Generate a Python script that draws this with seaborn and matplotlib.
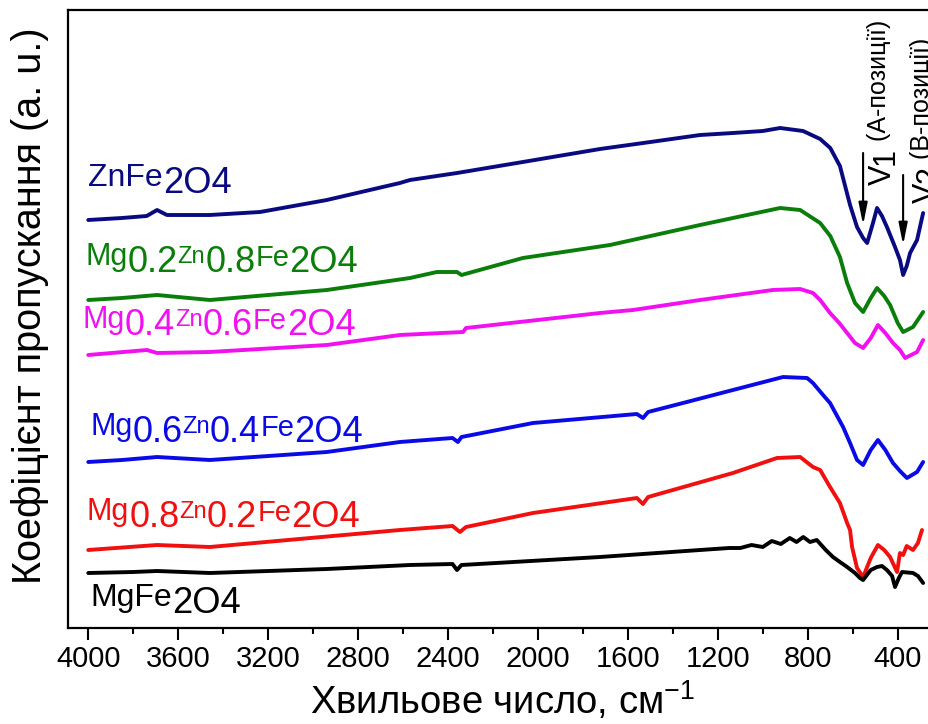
import matplotlib
matplotlib.use("Agg")
import matplotlib.pyplot as plt
import matplotlib.transforms as mtransforms
import numpy as np
import pandas as pd
import seaborn as sns

# --- FTIR spectra of Mg(x)Zn(1-x)Fe2O4, offset transmittance (a.u.) ---
samples = ["ZnFe2O4", "Mg0.2Zn0.8Fe2O4", "Mg0.4Zn0.6Fe2O4",
           "Mg0.6Zn0.4Fe2O4", "Mg0.8Zn0.2Fe2O4", "MgFe2O4"]

wn_zn = [4000, 3850, 3740, 3694, 3650, 3459, 3236, 2939, 2614, 2569, 2360, 2067,
         1724, 1500, 1279, 1133, 1000, 923, 821, 745, 700, 657, 612, 581, 554,
         536, 510, 492, 470, 448, 412, 390, 376, 360, 345, 314, 287]
t_zn = [408, 410, 412, 418, 413, 413, 416, 428, 445, 448, 455, 466,
        479, 486, 493, 495, 497, 500, 497, 489, 480, 462, 423, 401, 390,
        385, 405, 420, 412, 401, 381, 368, 353, 362, 375, 388, 415]

wn_mg02 = [4000, 3850, 3694, 3600, 3459, 2939, 2569, 2450, 2360, 2340, 2067, 1680,
           1279, 1133, 923, 834, 745, 700, 657, 625, 590, 554, 520, 492, 460,
           434, 400, 376, 332, 287]
t_mg02 = [328, 330, 333, 331, 328, 338, 350, 356, 356, 353, 370, 383,
          403, 410, 420, 418, 405, 392, 371, 345, 325, 316, 330, 340, 332,
          323, 305, 296, 301, 316]

wn_mg04 = [4000, 3739, 3694, 3459, 2939, 2614, 2333, 2320, 2200, 1724, 1577, 1279,
           955, 834, 777, 745, 701, 660, 625, 590, 554, 520, 488, 455, 421,
           390, 367, 314, 287]
t_mg04 = [273, 278, 275, 276, 283, 293, 296, 300, 303, 315, 318, 328,
          338, 339, 335, 328, 315, 305, 295, 285, 280, 290, 303, 295, 285,
          278, 270, 276, 288]

wn_mg06 = [4000, 3850, 3694, 3459, 2939, 2614, 2380, 2356, 2340, 2022, 1560, 1533,
           1510, 1355, 1133, 910, 803, 777, 732, 701, 643, 612, 581, 554, 520,
           488, 455, 421, 390, 359, 314, 287]
t_mg06 = [166, 168, 171, 168, 176, 186, 190, 186, 191, 205, 214, 210,
          216, 225, 238, 251, 250, 245, 233, 225, 201, 185, 168, 163, 178,
          188, 178, 165, 157, 150, 156, 166]

wn_mg08 = [4000, 3694, 3459, 2614, 2380, 2347, 2320, 2022, 1560, 1533, 1510, 1133,
           937, 834, 777, 745, 701, 657, 625, 612, 603, 581, 554, 520, 488,
           460, 434, 403, 390, 376, 360, 332, 310, 292]
t_mg08 = [78, 83, 81, 98, 102, 96, 101, 115, 130, 124, 131, 155,
          170, 171, 161, 158, 141, 125, 105, 98, 81, 60, 51, 70, 83,
          78, 71, 56, 75, 73, 82, 78, 85, 98]

wn_mg = [4000, 3800, 3694, 3459, 2939, 2569, 2380, 2360, 2340, 1724, 1279, 1150,
         1100, 1050, 1000, 960, 920, 880, 850, 820, 790, 760, 720, 688, 657,
         625, 590, 568, 554, 520, 492, 470, 448, 425, 412, 395, 381, 332, 310, 287]
t_mg = [55, 56, 57, 55, 59, 63, 64, 58, 63, 71, 78, 80,
        80, 83, 81, 87, 84, 90, 86, 91, 86, 88, 78, 71, 66,
        61, 55, 50, 48, 58, 61, 62, 58, 52, 41, 50, 56, 55, 52, 45]

wavenumbers = [wn_zn, wn_mg02, wn_mg04, wn_mg06, wn_mg08, wn_mg]
transmittance = [t_zn, t_mg02, t_mg04, t_mg06, t_mg08, t_mg]

# label text split into element / index pieces
label_tokens = [["ZnFe", "2O4"],
                ["Mg", "0.2", "Zn", "0.8", "Fe", "2O4"],
                ["Mg", "0.4", "Zn", "0.6", "Fe", "2O4"],
                ["Mg", "0.6", "Zn", "0.4", "Fe", "2O4"],
                ["Mg", "0.8", "Zn", "0.2", "Fe", "2O4"],
                ["MgFe", "2O4"]]
label_x = [4000, 4014, 4024, 3992, 4006, 3992]
label_y = [435, 356, 293, 186, 101, 15]

colors = ["#0a0a80", "#0a7d0a", "#f010f0", "#0a0ae6", "#f01010", "#000000"]

bands = ["V", "V"]
band_index = ["1", "2"]
band_site = [" (А-позиції)", " (B-позиції)"]
band_arrow_x = [554, 376]
band_arrow_top = [475, 453]
band_arrow_tip = [403, 383]
band_text_x = [416, 222]
band_text_y = [443, 425]

xticks = [4000, 3600, 3200, 2800, 2400, 2000, 1600, 1200, 800, 400]

df = pd.concat(
    [pd.DataFrame({"wavenumber": w, "T": t, "sample": s})
     for w, t, s in zip(wavenumbers, transmittance, samples)],
    ignore_index=True)

sns.set_style("ticks")
plt.rcParams["font.family"] = ["Liberation Sans", "DejaVu Sans"]
plt.rcParams["mathtext.default"] = "regular"
for key in ["text.color", "axes.labelcolor", "xtick.color", "ytick.color",
            "xtick.labelcolor", "axes.edgecolor"]:
    plt.rcParams[key] = "black"

W, H = 929, 724
fig = plt.figure(figsize=(W / 100, H / 100), dpi=100)
ax = fig.add_axes([68 / W, 96 / H, (931 - 68) / W, 618 / H])

sns.lineplot(data=df, x="wavenumber", y="T", hue="sample", hue_order=samples,
             palette=dict(zip(samples, colors)), estimator=None, sort=True,
             linewidth=2.8, legend=False, ax=ax)

ax.set_xlim(4090, 252)
ax.set_ylim(0, 618)
ax.set_yticks([])
ax.set_xticks(xticks)
ax.set_xticks(np.arange(3800, 200, -400), minor=True)
ax.tick_params(axis="x", which="major", direction="out", length=8.5, width=1.5,
               labelsize=21, pad=4, color="black", labelcolor="black")
ax.tick_params(axis="x", which="minor", direction="out", length=4.5, width=1.5,
               color="black")
for side in ["left", "bottom", "top"]:
    ax.spines[side].set_linewidth(1.6)
    ax.spines[side].set_color("black")
ax.spines["right"].set_visible(False)

ax.set_xlabel(r"Хвильове число, см$^{-1}$", fontsize=27.5)
ax.xaxis.set_label_coords(0.504, -0.083)
ax.set_ylabel("Коефіцієнт пропускання (а. u.)", fontsize=28.5)
ax.yaxis.set_label_coords(-0.022, 0.522)

renderer = fig.canvas.get_renderer()


def token_style(tok, tokens):
    if tok[0].isdigit():
        return 26, 0
    if len(tokens) == 2:
        return 23, 5
    if tok == "Zn":
        return 17, 6.5
    if tok == "Mg":
        return 22, 5
    return 21, 4


def draw_formula(x, y, tokens, color):
    dx = 0.0
    for tok in tokens:
        size, rise = token_style(tok, tokens)
        tr = ax.transData + mtransforms.ScaledTranslation(dx / 72, rise / 72,
                                                          fig.dpi_scale_trans)
        t = ax.text(x, y, tok, fontsize=size, color=color, ha="left",
                    va="baseline", transform=tr)
        dx += t.get_window_extent(renderer).width * 72 / fig.dpi


for x, y, toks, c in zip(label_x, label_y, label_tokens, colors):
    draw_formula(x, y, toks, c)


def draw_band(x, y, pieces):
    dy = 0.0
    for tok, size, rise in pieces:
        tr = ax.transData + mtransforms.ScaledTranslation(-rise / 72, dy / 72,
                                                          fig.dpi_scale_trans)
        t = ax.text(x, y, tok, fontsize=size, color="black", rotation=90,
                    rotation_mode="anchor", ha="left", va="baseline",
                    transform=tr)
        dy += t.get_window_extent(renderer).height * 72 / fig.dpi


for i in range(2):
    ax.annotate("", xy=(band_arrow_x[i], band_arrow_tip[i]),
                xytext=(band_arrow_x[i], band_arrow_top[i]),
                arrowprops=dict(arrowstyle="-|>,head_length=0.65,head_width=0.13",
                                color="black", lw=1.5, mutation_scale=20,
                                shrinkA=0, shrinkB=0))
    draw_band(band_text_x[i], band_text_y[i],
              [(bands[i], 22, 2), (band_index[i], 22, 0), (band_site[i], 18, 6)])

fig.savefig("out.png", dpi=100, facecolor="white")
